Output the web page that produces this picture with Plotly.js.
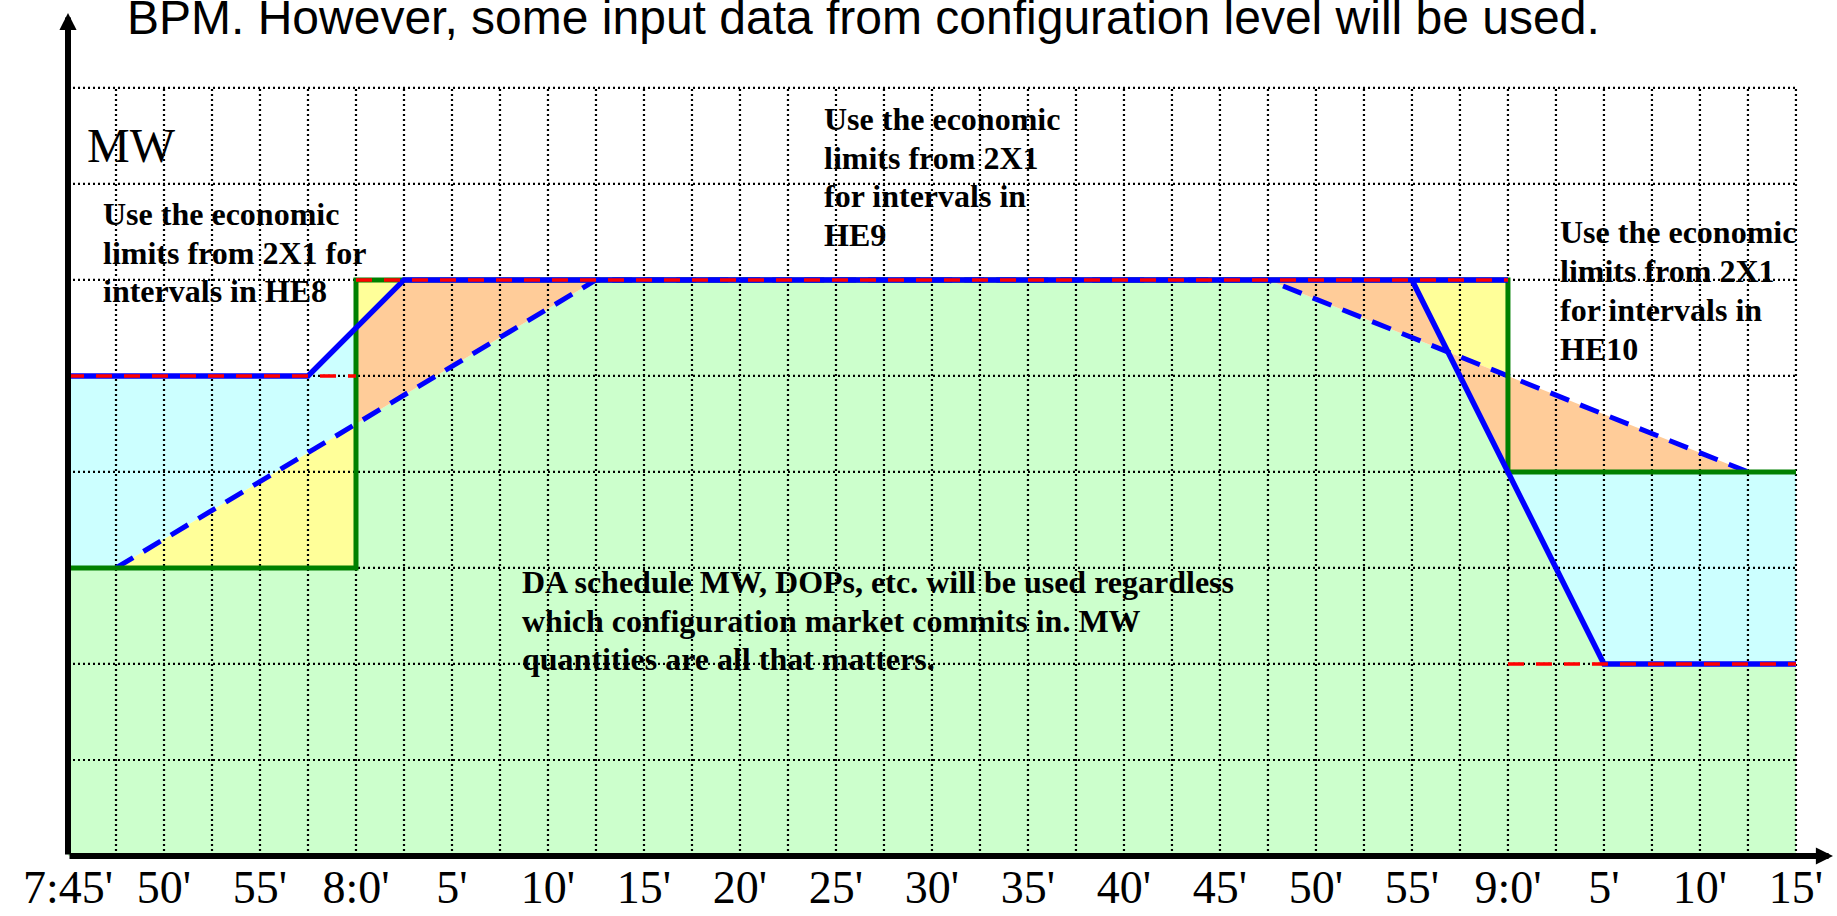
<!DOCTYPE html>
<html>
<head>
<meta charset="utf-8">
<script src="https://cdn.plot.ly/plotly-3.0.1.min.js"></script>
<style>
html, body { margin: 0; padding: 0; background: #ffffff; }
#chart { width: 1837px; height: 916px; }
</style>
</head>
<body>
<div id="chart"></div>
<script>
// ---------------- DATA (x: minutes after 7:45, y: MW in grid units) ----------------
const tickMinutes = [0, 5, 10, 15, 20, 25, 30, 35, 40, 45, 50, 55, 60, 65, 70, 75, 80, 85, 90];
const tickLabels = ["7:45'", "50'", "55'", "8:0'", "5'", "10'", "15'", "20'", "25'", "30'",
                    "35'", "40'", "45'", "50'", "55'", "9:0'", "5'", "10'", "15'"];
const gridMinutes = [2.5, 5, 7.5, 10, 12.5, 15, 17.5, 20, 22.5, 25, 27.5, 30, 32.5, 35, 37.5, 40,
                     42.5, 45, 47.5, 50, 52.5, 55, 57.5, 60, 62.5, 65, 67.5, 70, 72.5, 75, 77.5,
                     80, 82.5, 85, 87.5, 90];
const gridLevels = [1, 2, 3, 4, 5, 6, 7, 8];

// DA schedule (green step)
const daX = [0, 15, 15, 75, 75, 90];
const daY = [3, 3, 6, 6, 4, 4];
// economic limits (red dashed)
const limitX = [0, 15, null, 15, 75, null, 75, 90];
const limitY = [5, 5, null, 6, 6, null, 2, 2];
// dispatch (blue solid)
const dispX = [0, 12.5, 17.5, 75, null, 70, 80, 90];
const dispY = [5, 5, 6, 6, null, 6, 2, 2];
// ramp-limited path (blue dashed)
const rampX = [2.5, 27.5, 62.5, 87.5];
const rampY = [3, 6, 6, 4];

// crossing of the falling dispatch ramp with the falling ramp-limited path
function intersect(p1, p2, p3, p4) {
  const d = (p1[0] - p2[0]) * (p3[1] - p4[1]) - (p1[1] - p2[1]) * (p3[0] - p4[0]);
  const a = p1[0] * p2[1] - p1[1] * p2[0];
  const b = p3[0] * p4[1] - p3[1] * p4[0];
  return [(a * (p3[0] - p4[0]) - (p1[0] - p2[0]) * b) / d,
          (a * (p3[1] - p4[1]) - (p1[1] - p2[1]) * b) / d];
}
const P = intersect([dispX[5], dispY[5]], [dispX[6], dispY[6]],
                    [rampX[2], rampY[2]], [rampX[3], rampY[3]]);

// shaded regions
const greenX  = [0, 0, 15, 15, 27.5, 62.5, P[0], 80, 90, 90];
const greenY  = [0, 3, 3, 4.5, 6, 6, P[1], 2, 2, 0];
const cyanLX  = [0, 0, 12.5, 15, 15, 2.5];
const cyanLY  = [3, 5, 5, 5.5, 4.5, 3];
const yellowLX = [2.5, 15, 15];
const yellowLY = [3, 3, 4.5];
const yellowTX = [15, 15, 17.5];
const yellowTY = [5.5, 6, 6];
const orangeLX = [15, 15, 17.5, 27.5];
const orangeLY = [4.5, 5.5, 6, 6];
const orangeTX = [62.5, 70, P[0]];
const orangeTY = [6, 6, P[1]];
const yellowRX = [70, 75, 75, P[0]];
const yellowRY = [6, 6, 5, P[1]];
const orangeRX = [P[0], 75, 87.5, 75];
const orangeRY = [P[1], 5, 4, 4];
const cyanRX  = [75, 90, 90, 80];
const cyanRY  = [4, 4, 2, 2];

// ---------------- LAYOUT CONSTANTS ----------------
const W = 1837, H = 916;
const M = { l: 68, r: 4, t: 13, b: 60 };
const X_END = 91.93, Y_END = 8.78;
const PW = W - M.l - M.r, PH = H - M.t - M.b;
const px2x = px => (px - M.l) / PW;
const py2y = py => (H - M.b - py) / PH;

const C_GREEN_FILL = '#ccffcc', C_CYAN = '#ccffff', C_YELLOW = '#ffff99', C_ORANGE = '#ffcc99';

function fillTrace(xs, ys, color) {
  return { type: 'scatter', mode: 'lines', x: xs.concat([xs[0]]), y: ys.concat([ys[0]]),
           fill: 'toself', fillcolor: color, line: { width: 0, color: color },
           hoverinfo: 'skip' };
}

// grid segments
const gvx = [], gvy = [];
gridMinutes.forEach(m => { gvx.push(m, m, null); gvy.push(0, gridLevels[gridLevels.length - 1], null); });
const ghx = [], ghy = [];
gridLevels.forEach(l => { ghx.push(0, gridMinutes[gridMinutes.length - 1], null); ghy.push(l, l, null); });

const traces = [
  fillTrace(greenX, greenY, C_GREEN_FILL),
  fillTrace(cyanLX, cyanLY, C_CYAN),
  fillTrace(yellowLX, yellowLY, C_YELLOW),
  fillTrace(yellowTX, yellowTY, C_YELLOW),
  fillTrace(orangeLX, orangeLY, C_ORANGE),
  fillTrace(orangeTX, orangeTY, C_ORANGE),
  fillTrace(yellowRX, yellowRY, C_YELLOW),
  fillTrace(orangeRX, orangeRY, C_ORANGE),
  fillTrace(cyanRX, cyanRY, C_CYAN),
  { type: 'scatter', mode: 'lines', x: gvx, y: gvy, connectgaps: false, hoverinfo: 'skip',
    line: { color: '#000', width: 2.2, dash: '2px,3px' } },
  { type: 'scatter', mode: 'lines', x: ghx, y: ghy, connectgaps: false, hoverinfo: 'skip',
    line: { color: '#000', width: 2.2, dash: '2px,3px' } },
  { type: 'scatter', mode: 'lines', x: rampX, y: rampY, hoverinfo: 'skip',
    line: { color: '#0000ff', width: 5, dash: '20px,12px' } },
  { type: 'scatter', mode: 'lines', x: daX, y: daY, hoverinfo: 'skip',
    line: { color: '#008000', width: 5 } },
  { type: 'scatter', mode: 'lines', x: dispX, y: dispY, connectgaps: false, hoverinfo: 'skip',
    line: { color: '#0000ff', width: 5.5 } },
  { type: 'scatter', mode: 'lines', x: limitX, y: limitY, connectgaps: false, hoverinfo: 'skip',
    line: { color: '#ff0000', width: 3.5, dash: '16px,12px' } }
];

const boldFont = { family: 'Liberation Serif, Times New Roman, serif', size: 32, color: '#000', weight: 'bold' };

function textBlock(lines, leftPx, firstBaseline, step, font) {
  return lines.map((t, i) => ({
    text: t, xref: 'paper', yref: 'paper', x: px2x(leftPx),
    y: py2y(firstBaseline + i * step - 0.3375 * font.size),
    xanchor: 'left', yanchor: 'middle', showarrow: false, font: font, borderpad: 0
  }));
}

const annotations = [].concat(
  textBlock(['MW'], 86, 162, 0, { family: 'Liberation Serif, Times New Roman, serif', size: 48, color: '#000' }),
  textBlock(['Use the economic', 'limits from 2X1 for', 'intervals in HE8'], 102, 225, 38.5, boldFont),
  textBlock(['Use the economic', 'limits from 2X1', 'for intervals in', 'HE9'], 823, 130, 38.5, boldFont),
  textBlock(['Use the economic', 'limits from 2X1', 'for intervals in', 'HE10'], 1559, 243, 39, boldFont),
  textBlock(['DA schedule MW, DOPs, etc. will be used regardless',
             'which configuration market commits in. MW',
             'quantities are all that matters.'], 521, 593, 38.5, boldFont),
  [
    { x: 0, y: Y_END, ax: 0, ay: 0, xref: 'x', yref: 'y', axref: 'x', ayref: 'y', text: '',
      showarrow: true, arrowhead: 2, arrowsize: 0.57, arrowwidth: 6, arrowcolor: '#000', standoff: 0, startstandoff: 0 },
    { x: X_END, y: 0, ax: 0, ay: 0, xref: 'x', yref: 'y', axref: 'x', ayref: 'y', text: '',
      showarrow: true, arrowhead: 2, arrowsize: 0.57, arrowwidth: 6, arrowcolor: '#000', standoff: 0, startstandoff: 0 }
  ]
);

const TITLE_SIZE = 48, TITLE_BASELINE = 37;
const layout = {
  width: W, height: H,
  margin: { l: M.l, r: M.r, t: M.t, b: M.b, pad: 0 },
  paper_bgcolor: '#ffffff', plot_bgcolor: '#ffffff',
  showlegend: false,
  title: {
    text: 'BPM. However, some input data from configuration level will be used.',
    font: { family: 'Liberation Sans, Arial, sans-serif', size: TITLE_SIZE, color: '#000' },
    xref: 'container', yref: 'container', x: 127 / W, xanchor: 'left',
    y: 1 - (TITLE_BASELINE - 0.3465 * TITLE_SIZE - 3.5) / H, yanchor: 'middle', automargin: false
  },
  xaxis: {
    range: [0, X_END], tickvals: tickMinutes, ticktext: tickLabels,
    showgrid: false, zeroline: false, showline: false, ticks: '',
    tickfont: { family: 'Liberation Serif, Times New Roman, serif', size: 46, color: '#000' },
    fixedrange: true
  },
  yaxis: {
    range: [0, Y_END], showgrid: false, zeroline: false, showline: false,
    showticklabels: false, ticks: '', fixedrange: true
  },
  annotations: annotations
};

Plotly.newPlot('chart', traces, layout, { displayModeBar: false, staticPlot: true });
</script>
</body>
</html>
